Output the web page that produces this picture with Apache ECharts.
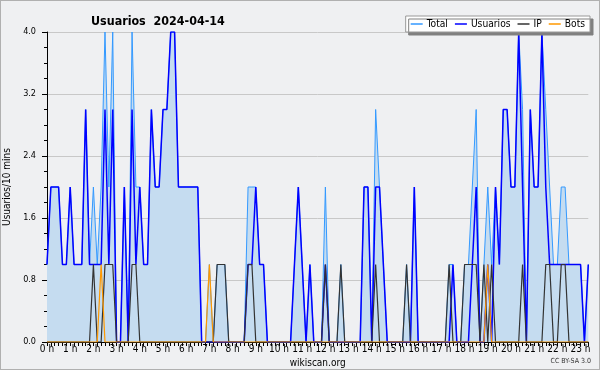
<!DOCTYPE html>
<html>
<head>
<meta charset="utf-8">
<script src="https://cdn.jsdelivr.net/npm/echarts@6.0.0/dist/echarts.min.js"></script>
<style>
  html, body { margin: 0; padding: 0; background: #eff0f2; }
  #chart { width: 600px; height: 370px; box-sizing: border-box; border: 1px solid #b0b0b0; }
</style>
</head>
<body>
<div id="chart"></div>
<script>
// etiquetas de las horas (una cada 6 intervalos de 10 min)
var horas = ['0 h', '1 h', '2 h', '3 h', '4 h', '5 h', '6 h', '7 h', '8 h', '9 h', '10 h', '11 h',
  '12 h', '13 h', '14 h', '15 h', '16 h', '17 h', '18 h', '19 h', '20 h', '21 h', '22 h', '23 h'];
var yTicks = [0, 0.8, 1.6, 2.4, 3.2, 4.0];

// valores por intervalo de 10 min (0:00 ... 23:20)
var total = [
  1,2,2,2,1,1,2,1,1,1,3,1,
  2,1,2,4,2,4,0,0,2,0,4,2,
  2,1,1,3,2,2,3,3,4,4,2,2,
  2,2,2,2,0,0,1,0,1,1,1,0,
  0,0,0,0,2,2,2,1,1,0,0,0,
  0,0,0,0,1,2,1,0,1,0,0,0,
  2,0,0,0,1,0,0,0,0,0,2,2,
  0,3,2,1,0,0,0,0,0,1,0,2,
  0,0,0,0,0,0,0,0,1,1,0,0,
  1,1,2,3,0,1,2,1,2,1,3,3,
  2,2,4,3,0,3,2,2,4,3,2,1,
  1,2,2,1,1,1,1,0,1
];
var usuarios = [
  1,2,2,2,1,1,2,1,1,1,3,1,
  1,1,1,3,1,3,0,0,2,0,3,1,
  2,1,1,3,2,2,3,3,4,4,2,2,
  2,2,2,2,0,0,0,0,0,0,0,0,
  0,0,0,0,1,1,2,1,1,0,0,0,
  0,0,0,0,1,2,1,0,1,0,0,0,
  1,0,0,0,0,0,0,0,0,0,2,2,
  0,2,2,1,0,0,0,0,0,0,0,2,
  0,0,0,0,0,0,0,0,0,1,0,0,
  0,0,1,2,0,0,1,0,2,1,3,3,
  2,2,4,2,0,3,2,2,4,2,1,1,
  1,1,1,1,1,1,1,0,1
];
var ip = [
  0,0,0,0,0,0,0,0,0,0,0,0,
  1,0,0,1,1,1,0,0,0,0,1,1,
  0,0,0,0,0,0,0,0,0,0,0,0,
  0,0,0,0,0,0,0,0,1,1,1,0,
  0,0,0,0,1,1,0,0,0,0,0,0,
  0,0,0,0,0,0,0,0,0,0,0,0,
  1,0,0,0,1,0,0,0,0,0,0,0,
  0,1,0,0,0,0,0,0,0,1,0,0,
  0,0,0,0,0,0,0,0,1,0,0,0,
  1,1,1,1,0,1,0,1,0,0,0,0,
  0,0,0,1,0,0,0,0,0,1,1,0,
  0,1,1,0,0,0,0,0,0
];
var bots = [
  0,0,0,0,0,0,0,0,0,0,0,0,
  0,0,1,0,0,0,0,0,0,0,0,0,
  0,0,0,0,0,0,0,0,0,0,0,0,
  0,0,0,0,0,0,1,0,0,0,0,0,
  0,0,0,0,0,0,0,0,0,0,0,0,
  0,0,0,0,0,0,0,0,0,0,0,0,
  0,0,0,0,0,0,0,0,0,0,0,0,
  0,0,0,0,0,0,0,0,0,0,0,0,
  0,0,0,0,0,0,0,0,0,0,0,0,
  0,0,0,0,0,0,1,0,0,0,0,0,
  0,0,0,0,0,0,0,0,0,0,0,0,
  0,0,0,0,0,0,0,0,0
];

var slots = [];
for (var i = 0; i < total.length; i++) {
  var h = Math.floor(i / 6), m = (i % 6) * 10;
  slots.push(h + ':' + (m < 10 ? '0' + m : m));
}

var fuente = "'DejaVu Sans Condensed', 'DejaVu Sans'";

var option = {
  animation: false,
  backgroundColor: '#eff0f2',
  title: {
    text: 'Usuarios  2024-04-14',
    left: 85,
    top: 10,
    textStyle: { fontFamily: fuente, fontSize: 12.4, fontWeight: 'bold', color: '#000' }
  },
  legend: {
    right: 9,
    top: 15,
    padding: [3, 5, 3, 5],
    itemGap: 7,
    itemWidth: 12,
    itemHeight: 1.5,
    icon: 'rect',
    backgroundColor: '#fff',
    borderColor: '#999',
    borderWidth: 1,
    shadowColor: '#808080',
    shadowOffsetX: 3,
    shadowOffsetY: 3,
    textStyle: { fontFamily: fuente, fontSize: 10.2, color: '#000', padding: [0, 0, 0, -1] },
    data: ['Total', 'Usuarios', 'IP', 'Bots']
  },
  grid: {
    left: 46,
    right: 10.7,
    top: 31,
    bottom: 27,
    outerBoundsMode: 'none',
    containLabel: false
  },
  xAxis: {
    type: 'category',
    boundaryGap: false,
    data: slots,
    name: 'wikiscan.org',
    nameLocation: 'middle',
    nameGap: 15,
    nameTextStyle: { fontFamily: fuente, fontSize: 10, color: '#000' },
    axisLine: { lineStyle: { color: '#000', width: 1 } },
    axisTick: { interval: 0, length: 4, lineStyle: { color: '#000' } },
    axisLabel: {
      interval: 0,
      margin: 2,
      fontFamily: fuente,
      fontSize: 10,
      color: '#000',
      formatter: function (v, idx) {
        return idx % 6 === 0 ? horas[idx / 6] : '';
      }
    },
    splitLine: { show: false }
  },
  yAxis: {
    type: 'value',
    min: yTicks[0],
    max: yTicks[yTicks.length - 1],
    interval: 0.8,
    name: 'Usuarios/10 mins',
    nameLocation: 'middle',
    nameRotate: 90,
    nameGap: 34,
    nameTextStyle: { fontFamily: fuente, fontSize: 10, color: '#000' },
    axisLine: { show: true, lineStyle: { color: '#000', width: 1 } },
    axisTick: { show: true, length: 5, lineStyle: { color: '#000' } },
    minorTick: { show: true, splitNumber: 4, length: 3, lineStyle: { color: '#000' } },
    axisLabel: {
      margin: 11,
      fontFamily: fuente,
      fontSize: 9,
      color: '#000',
      formatter: function (v) { return v.toFixed(1); }
    },
    splitLine: { show: true, lineStyle: { color: '#c8c8c8', width: 1 } }
  },
  graphic: [{
    type: 'text',
    right: 8,
    bottom: 4,
    style: { text: 'CC BY-SA 3.0', fontFamily: fuente, fontSize: 7, fill: '#333' }
  }],
  series: [{
      name: 'Total',
      type: 'line',
      data: total,
      showSymbol: false,
      lineStyle: { color: '#3399ff', width: 1 },
      itemStyle: { color: '#3399ff' },
      areaStyle: { color: '#c5dcf0', opacity: 1 }
    },
    {
      name: 'Usuarios',
      type: 'line',
      data: usuarios,
      showSymbol: false,
      lineStyle: { color: '#0000ff', width: 1.5 },
      itemStyle: { color: '#0000ff' }
    },
    {
      name: 'IP',
      type: 'line',
      data: ip,
      showSymbol: false,
      lineStyle: { color: '#333333', width: 1.2 },
      itemStyle: { color: '#333333' }
    },
    {
      name: 'Bots',
      type: 'line',
      data: bots,
      showSymbol: false,
      lineStyle: { color: '#ff9900', width: 1.2 },
      itemStyle: { color: '#ff9900' }
    }
  ]
};

var chart = echarts.init(document.getElementById('chart'), null, { renderer: 'canvas' });
chart.setOption(option);
</script>
</body>
</html>
